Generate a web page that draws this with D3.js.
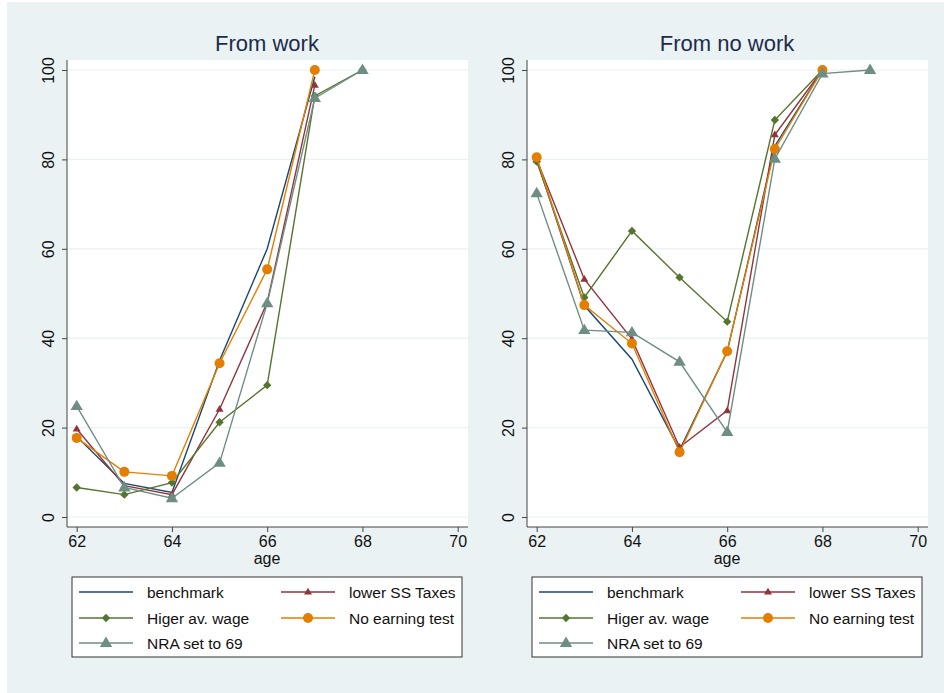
<!DOCTYPE html>
<html lang="en">
<head>
<meta charset="UTF-8">
<script src="https://d3js.org/d3.v7.min.js"></script>
<style>
  body { margin: 0; background: #fff; }
  svg text { font-family: "Liberation Sans", Arial, sans-serif; }
</style>
</head>
<body>
<div id="chart"></div>
<script>
// ages on the x axis
const ages = [62, 63, 64, 65, 66, 67, 68, 69];
const xTicks = [62, 64, 66, 68, 70];
const yTicks = [0, 20, 40, 60, 80, 100];
const seriesNames = ["benchmark", "lower SS Taxes", "Higer av. wage", "No earning test", "NRA set to 69"];
const panelTitles = ["From work", "From no work"];

// From work
const workBenchmark = [18.0, 7.5, 5.5, 35.0, 60.0, 98.5, null, null];
const workLowerSS   = [19.7, 7.0, 5.0, 24.1, 48.0, 96.6, null, null];
const workHiger     = [6.6, 5.0, 7.7, 21.2, 29.5, 94.2, 100, null];
const workNoEarn    = [17.7, 10.1, 9.2, 34.4, 55.4, 100, null, null];
const workNRA       = [24.8, 6.6, 4.2, 12.1, 47.8, 93.7, 100, null];

// From no work
const noworkBenchmark = [80.0, 47.3, 35.3, 15.0, 37.0, 83.0, 100, null];
const noworkLowerSS   = [80.0, 53.2, 39.8, 15.6, 23.8, 85.5, 100, null];
const noworkHiger     = [79.5, 49.1, 64.0, 53.6, 43.7, 88.8, 100, null];
const noworkNoEarn    = [80.5, 47.4, 38.8, 14.5, 37.1, 82.3, 100, null];
const noworkNRA       = [72.4, 41.8, 41.3, 34.7, 19.0, 80.1, 99.2, 100];

const panels = [
  [workBenchmark, workLowerSS, workHiger, workNoEarn, workNRA],
  [noworkBenchmark, noworkLowerSS, noworkHiger, noworkNoEarn, noworkNRA]
];

const colors = ["#1a476f", "#90353b", "#55752f", "#e37e00", "#6e8e84"];
const markers = ["none", "smalltri", "diamond", "circle", "tri"];

const width = 944, height = 693;
const svg = d3.select("#chart").append("svg")
  .attr("width", width).attr("height", height);

// outer graph region
svg.append("rect").attr("x", 7).attr("y", 2)
  .attr("width", width - 7).attr("height", height - 2)
  .attr("fill", "#eaf2f3");

function drawMarker(g, type, x, y, color) {
  if (type === "circle") {
    g.append("circle").attr("cx", x).attr("cy", y).attr("r", 5).attr("fill", color);
  } else if (type === "tri" || type === "smalltri") {
    const s = type === "tri" ? 6.5 : 4.2;
    g.append("path")
      .attr("d", `M${x},${y - s}L${x + s * 0.95},${y + s * 0.6}L${x - s * 0.95},${y + s * 0.6}Z`)
      .attr("fill", color);
  } else if (type === "diamond") {
    const s = 4.2;
    g.append("path")
      .attr("d", `M${x},${y - s}L${x + s},${y}L${x},${y + s}L${x - s},${y}Z`)
      .attr("fill", color);
  }
}

panels.forEach((series, p) => {
  const ox = p * 460;
  const g = svg.append("g").attr("transform", `translate(${ox},0)`);

  const x = d3.scaleLinear().domain([62, 70]).range([76.7, 457.7]);
  const y = d3.scaleLinear().domain([0, 100]).range([517, 70]);

  // plot region
  g.append("rect").attr("x", 67).attr("y", 60)
    .attr("width", 401).attr("height", 467).attr("fill", "#fff");

  // grid
  g.selectAll(".grid").data(yTicks).join("line")
    .attr("x1", 67).attr("x2", 468)
    .attr("y1", d => y(d)).attr("y2", d => y(d))
    .attr("stroke", "#eaf2f3").attr("stroke-width", 1.2);

  // axes
  const yAxis = g.append("g").attr("transform", "translate(67,0)")
    .call(d3.axisLeft(y).tickValues(yTicks).tickSize(5).tickFormat(d3.format("d")));
  yAxis.select(".domain").attr("d", "M0,60V527").attr("stroke", "#444");
  yAxis.selectAll(".tick line").attr("stroke", "#444");
  yAxis.selectAll(".tick text")
    .attr("transform", "rotate(-90)")
    .attr("x", 0).attr("y", -13).attr("dy", 0)
    .attr("text-anchor", "middle")
    .attr("font-size", 16).attr("fill", "#111");

  const xAxis = g.append("g").attr("transform", "translate(0,527)")
    .call(d3.axisBottom(x).tickValues(xTicks).tickSize(5));
  xAxis.select(".domain").attr("d", "M67,0H468").attr("stroke", "#444");
  xAxis.selectAll(".tick line").attr("stroke", "#444");
  xAxis.selectAll(".tick text").attr("y", 9).attr("dy", "0.71em")
    .attr("font-size", 16).attr("fill", "#111");

  g.append("text").attr("x", 267).attr("y", 564).attr("text-anchor", "middle")
    .attr("font-size", 16).attr("fill", "#111").text("age");

  g.append("text").attr("x", 267).attr("y", 51).attr("text-anchor", "middle")
    .attr("font-size", 22).attr("fill", "#1c2c4c").text(panelTitles[p]);

  // lines
  const line = d3.line()
    .defined(d => d[1] !== null)
    .x(d => x(d[0])).y(d => y(d[1]));

  series.forEach((vals, i) => {
    const pts = ages.map((a, k) => [a, vals[k]]);
    g.append("path").datum(pts)
      .attr("d", line).attr("fill", "none")
      .attr("stroke", colors[i]).attr("stroke-width", 1.4);
    pts.filter(d => d[1] !== null).forEach(d =>
      drawMarker(g, markers[i], x(d[0]), y(d[1]), colors[i]));
  });

  // legend
  const lg = g.append("g");
  lg.append("rect").attr("x", 72).attr("y", 577).attr("width", 390).attr("height", 80)
    .attr("fill", "#fff").attr("stroke", "#333").attr("stroke-width", 1);
  const pos = [[79, 592], [281, 592], [79, 618], [281, 618], [79, 643]];
  seriesNames.forEach((name, i) => {
    const [lx, ly] = pos[i];
    lg.append("line").attr("x1", lx).attr("x2", lx + 54)
      .attr("y1", ly).attr("y2", ly)
      .attr("stroke", colors[i]).attr("stroke-width", 1.4);
    drawMarker(lg, markers[i], lx + 27, ly, colors[i]);
    lg.append("text").attr("x", lx + 68).attr("y", ly + 5.5)
      .attr("font-size", 15.5).attr("fill", "#111").text(name);
  });
});
</script>
</body>
</html>
